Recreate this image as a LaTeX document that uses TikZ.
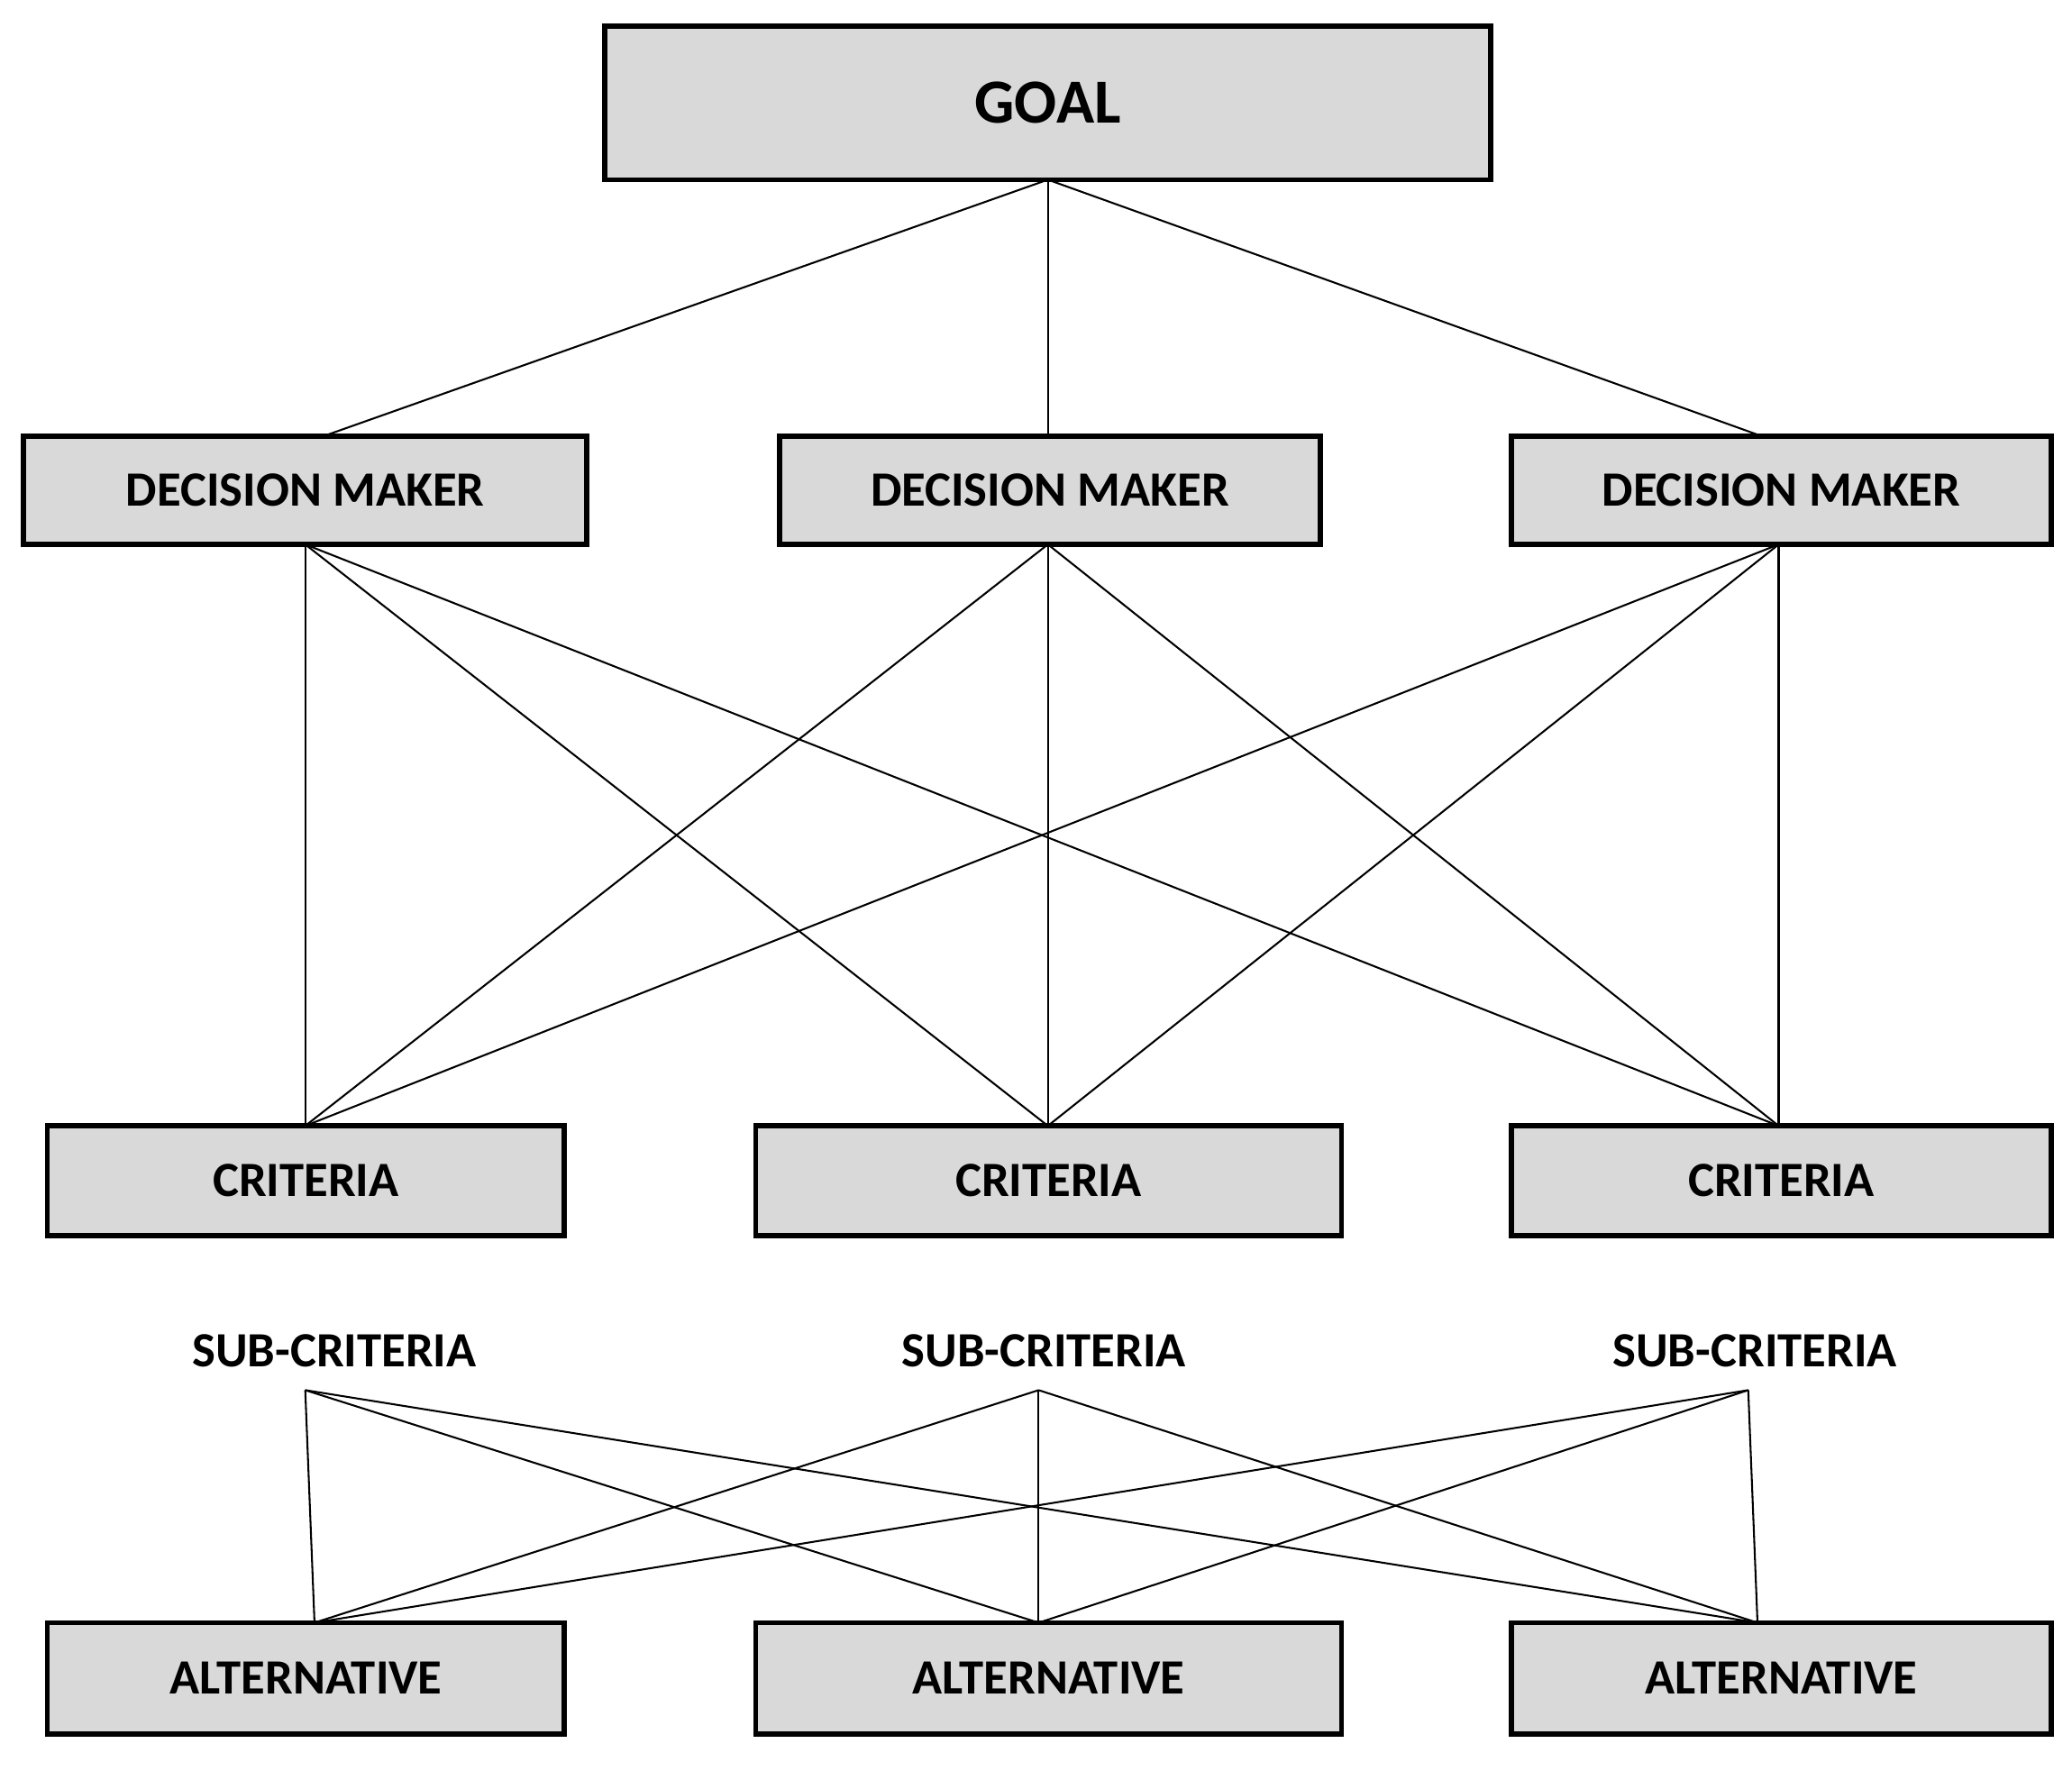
\documentclass[tikz,border=0pt]{standalone}
\usepackage{fontspec}
\setmainfont{Carlito}
\begin{document}
\begin{tikzpicture}[x=0.01cm,y=-0.01cm,
  box/.style={draw=black,line width=1.1pt,fill=black!15,inner sep=0pt,font=\bfseries},
  lnk/.style={line width=0.4pt},
  lbl/.style={inner sep=0pt,font=\bfseries\fontsize{10.6}{12}\selectfont}]
\useasboundingbox (0,0) rectangle (1568,1340);
\node[box,minimum width=6.7cm,minimum height=1.16cm,font=\bfseries\fontsize{13.5}{15}\selectfont] (goal) at (793,78) {GOAL};
\foreach \n/\x/\w in {1/231/4.26,2/794.5/4.09,3/1348/4.08}{
  \node[box,minimum width=\w cm,minimum height=0.82cm,font=\bfseries\fontsize{10.6}{12}\selectfont] (dm\n) at (\x,371) {DECISION MAKER};}
\foreach \n/\x/\w in {1/231.5/3.91,2/793.5/4.43,3/1348/4.08}{
  \node[box,minimum width=\w cm,minimum height=0.83cm,font=\bfseries\fontsize{10.6}{12}\selectfont] (cr\n) at (\x,893.5) {CRITERIA};
  \node[box,minimum width=\w cm,minimum height=0.84cm,font=\bfseries\fontsize{10.6}{12}\selectfont] (al\n) at (\x,1270) {ALTERNATIVE};}
\foreach \n/\x in {1/253,2/790,3/1328}{\node[lbl] (sc\n) at (\x,1022) {SUB-CRITERIA};}
% attachment points
\coordinate (gb) at (793,136);
\coordinate (dt1) at (245,330); \coordinate (dt2) at (793,330); \coordinate (dt3) at (1333,330);
\coordinate (db1) at (231,412); \coordinate (db2) at (793,412); \coordinate (db3) at (1346,412);
\coordinate (ct1) at (231,852); \coordinate (ct2) at (793,852); \coordinate (ct3) at (1346,852);
\coordinate (sb1) at (231,1052); \coordinate (sb2) at (786,1052); \coordinate (sb3) at (1323,1052);
\coordinate (at1) at (238,1228); \coordinate (at2) at (786,1228); \coordinate (at3) at (1330,1228);
\foreach \i in {1,2,3}{\draw[lnk] (gb) -- (dt\i);}
\foreach \i in {1,2,3}{\foreach \j in {1,2,3}{\draw[lnk] (db\i) -- (ct\j); \draw[lnk] (sb\i) -- (at\j);}}
\end{tikzpicture}
\end{document}
